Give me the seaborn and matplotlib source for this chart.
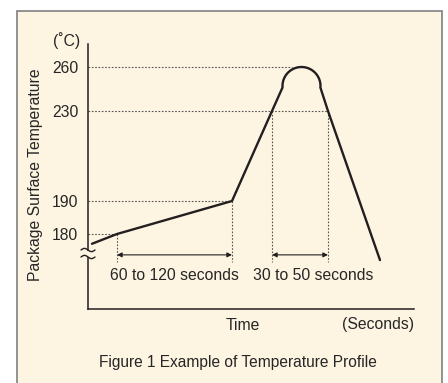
import numpy as np
import seaborn as sns
import matplotlib.pyplot as plt
from matplotlib.patches import Rectangle

# Reflow profile (schematic time units, temperature in deg C)
ramp_time = [4, 29, 144, 184, 194.5]
ramp_temp = [177, 180, 190, 230, 246]
peak_time = 213.5
peak_temp = 260
cool_time = [232.4, 240, 292]
cool_temp = [246, 230, 172]

tick_temps = [180, 190, 230, 260]
tick_labels = ['180', '190', '230', '260']

# reference guides: (temp, time where the dotted line stops)
h_guides = [(180, 29), (190, 144), (230, 240), (260, 204)]
v_guides = [(29, 180), (144, 190), (184, 230), (240, 230)]
spans = [(29, 144, '60 to 120 seconds', 86.5), (184, 240, '30 to 50 seconds', 225)]

# the vertical axis is drawn out of scale, like the original sketch
temp_anchor = [157, 180, 190, 230, 260, 276]
height_anchor = [0, 75, 108, 198, 242, 265]


def fwd(t):
    return np.interp(t, temp_anchor, height_anchor)


def inv(h):
    return np.interp(h, height_anchor, temp_anchor)


sns.set_theme(style='white')
plt.rcParams['font.family'] = ['Liberation Sans', 'DejaVu Sans']
ink = '#231f20'
txt = '#262626'
cream = '#fdf4e1'

fig = plt.figure(figsize=(4.48, 3.83), dpi=100)
fig.patch.set_facecolor('white')

# background panel, pixel coordinates
bg = fig.add_axes([0, 0, 1, 1], zorder=0)
bg.set_xlim(0, 448)
bg.set_ylim(383, 0)
bg.axis('off')
bg.add_patch(Rectangle((17, 11), 425, 390, facecolor=cream, edgecolor='#808080', lw=1.2))

ax = fig.add_axes([88 / 448, 74 / 383, 326 / 448, 265 / 383], zorder=1)
ax.set_facecolor('none')
ax.set_yscale('function', functions=(fwd, inv))
ax.set_xlim(0, 326)
ax.set_ylim(157, 276)

# rounded cap at the peak
hc = fwd(peak_temp) - 19
r = fwd(peak_temp) - hc
a0 = np.arctan2(fwd(ramp_temp[-1]) - hc, ramp_time[-1] - peak_time)
a1 = np.arctan2(fwd(cool_temp[0]) - hc, cool_time[0] - peak_time)
if a0 < 0:
    a0 += 2 * np.pi
ang = np.linspace(a0, a1, 40)
cap_time = peak_time + r * np.cos(ang)
cap_temp = inv(hc + r * np.sin(ang))

prof_time = list(ramp_time) + list(cap_time[1:-1]) + list(cool_time)
prof_temp = list(ramp_temp) + list(cap_temp[1:-1]) + list(cool_temp)

dot = dict(color='#555555', lw=0.8, ls=(0, (1.5, 1.5)))
for t, x_end in h_guides:
    ax.plot([0, x_end], [t, t], **dot)
for x, t in v_guides:
    ax.plot([x, x], [t, 171.4], **dot)

sns.lineplot(x=prof_time, y=prof_temp, sort=False, estimator=None, color=ink,
             lw=1.7, ax=ax, zorder=3)

for x0, x1, label, xc in spans:
    ax.annotate('', xy=(x0, 173.6), xytext=(x1, 173.6),
                arrowprops=dict(arrowstyle='<|-|>', color=ink, lw=0.8,
                                mutation_scale=7, shrinkA=0, shrinkB=0))
    ax.text(xc, 167.2, label, ha='center', va='center', fontsize=11.3, color=txt)

ax.set_yticks(tick_temps)
ax.set_yticklabels(tick_labels)
ax.set_xticks([])
ax.tick_params(axis='y', length=0, pad=7, labelsize=11.3, labelcolor=txt)
for side in ['top', 'right']:
    ax.spines[side].set_visible(False)
for side in ['left', 'bottom']:
    ax.spines[side].set_color(ink)
    ax.spines[side].set_linewidth(1.1)

# overlay for labels and the axis break mark
top = fig.add_axes([0, 0, 1, 1], zorder=2)
top.set_xlim(0, 448)
top.set_ylim(383, 0)
top.axis('off')
top.add_patch(Rectangle((84, 250.5), 8, 6, facecolor=cream, edgecolor='none'))
xs = np.linspace(81, 95, 30)
wave = 1.6 * np.sin((xs - 81) / 14 * 2 * np.pi)
top.plot(xs, 250 - wave, color=ink, lw=1.0)
top.plot(xs, 257 - wave, color=ink, lw=1.0)

top.text(80, 41, '(˚C)', ha='right', va='center', fontsize=11.3, color=txt)
top.text(36, 175, 'Package Surface Temperature', rotation=90, ha='center', va='center',
         fontsize=11.3, color=txt)
top.text(243, 325, 'Time', ha='center', va='center', fontsize=11.3, color=txt)
top.text(414, 325, '(Seconds)', ha='right', va='center', fontsize=11.3, color=txt)
top.text(238, 363, 'Figure 1 Example of Temperature Profile', ha='center', va='center',
         fontsize=11.2, color=txt)

fig.savefig('out.png', dpi=100)
